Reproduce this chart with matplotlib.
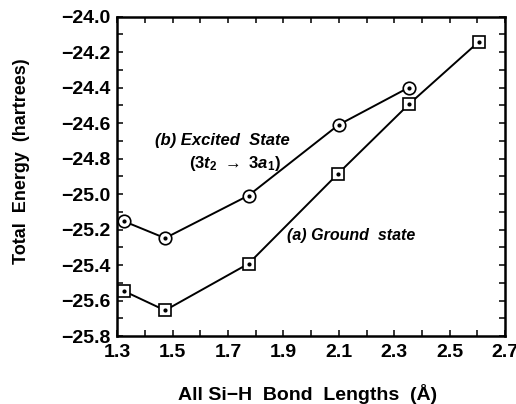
import matplotlib
matplotlib.use('Agg')
from matplotlib import pyplot as plt
from matplotlib.ticker import MultipleLocator

# bond lengths (angstrom) and energies (hartrees)
ground_x = [1.323, 1.473, 1.774, 2.097, 2.352, 2.604]
ground_y = [-25.545, -25.655, -25.392, -24.885, -24.495, -24.143]
excited_x = [1.323, 1.473, 1.774, 2.099, 2.352]
excited_y = [-25.152, -25.248, -25.008, -24.610, -24.400]

x_ticks = [1.3, 1.5, 1.7, 1.9, 2.1, 2.3, 2.5, 2.7]
y_ticks = [-25.8, -25.6, -25.4, -25.2, -25.0, -24.8, -24.6, -24.4, -24.2, -24.0]

plt.rcParams['font.family'] = ['Liberation Sans', 'DejaVu Sans']
plt.rcParams['font.weight'] = 'bold'
plt.rcParams['mathtext.fontset'] = 'custom'
plt.rcParams['mathtext.it'] = 'Liberation Sans:italic:bold'
plt.rcParams['mathtext.rm'] = 'Liberation Sans:bold'

fig = plt.figure(figsize=(5.16, 4.04), dpi=100)
ax = fig.add_axes([0.227, 0.168, 0.752, 0.791])

ax.plot(excited_x, excited_y, color='black', lw=1.4, marker='o', ms=9,
        mfc='white', mec='black', mew=1.2, zorder=3)
ax.plot(excited_x, excited_y, ls='none', marker='o', ms=2, color='black', zorder=4)
ax.plot(ground_x, ground_y, color='black', lw=1.4, marker='s', ms=8,
        mfc='white', mec='black', mew=1.2, zorder=3)
ax.plot(ground_x, ground_y, ls='none', marker='o', ms=2, color='black', zorder=4)

ax.set_xlim(1.3, 2.7)
ax.set_ylim(-25.8, -24.0)
ax.set_xticks(x_ticks)
ax.set_yticks(y_ticks)
ax.set_xticklabels([f'{v:.1f}' for v in x_ticks])
ax.set_yticklabels([f'\u2212{abs(v):.1f}' for v in y_ticks])
ax.xaxis.set_minor_locator(MultipleLocator(0.1))
ax.yaxis.set_minor_locator(MultipleLocator(0.1))
ax.tick_params(which='both', direction='in', top=True, right=True,
               length=4.5, width=1.1, labelsize=14)
ax.tick_params(axis='x', pad=6)
ax.tick_params(axis='y', pad=5)
for lab in ax.get_xticklabels() + ax.get_yticklabels():
    lab.set_fontweight('bold')
for s in ax.spines.values():
    s.set_linewidth(1.8)

ax.set_xlabel('All Si\u2212H  Bond  Lengths  (\u00c5)', fontsize=14,
              fontweight='bold')
ax.xaxis.set_label_coords(0.49, -0.150)
ax.set_ylabel('Total  Energy  (hartrees)', fontsize=13, fontweight='bold')
ax.yaxis.set_label_coords(-0.224, 0.548)

ax.text(1.437, -24.70, '(b) Excited  State', fontsize=12, fontweight='bold',
        style='italic', va='center')
ax.text(1.724, -24.826, r'$\mathit{(3t_2}\ \rightarrow\ \mathit{3a_1)}$',
        fontsize=12, ha='center', va='center')
ax.text(1.914, -25.233, '(a) Ground  state', fontsize=11.5, fontweight='bold',
        style='italic', va='center')

fig.savefig('out.png', dpi=100)
